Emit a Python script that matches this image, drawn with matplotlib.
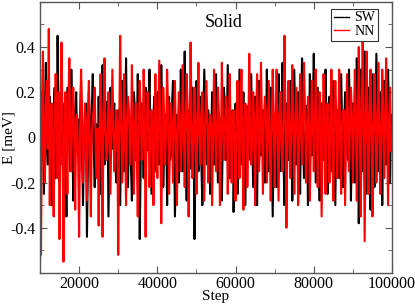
import numpy as np
import matplotlib
matplotlib.use("Agg")
import matplotlib.pyplot as plt
from matplotlib.ticker import MultipleLocator

# Energy fluctuations, one value every 250 steps.
steps = np.arange(10000, 100000, 250)

sw_values = [
    -0.55, -0.10, 0.20, 0.05, -0.25, 0.12, 0.33, -0.05, -0.12, 0.08, 0.18, -0.15, -0.30, 0.02, 0.10, 0.22, -0.18, -0.06, 0.45, 0.10,
    -0.20, 0.06, 0.28, -0.12, -0.08, 0.15, 0.02, -0.35, 0.22, 0.10, -0.02, -0.15, 0.30, 0.05, -0.28, -0.10, 0.12, 0.20, -0.06, 0.08,
    -0.15, 0.10, 0.25, -0.08, -0.30, 0.02, 0.08, 0.15, -0.44, -0.12, 0.20, 0.04, -0.10, 0.12, 0.28, -0.05, -0.22, 0.06, 0.05, -0.14,
    0.18, -0.06, -0.25, 0.10, 0.32, 0.02, -0.12, -0.04, 0.10, 0.16, -0.35, -0.08, 0.22, 0.04, -0.05, 0.12, 0.15, -0.10, -0.20, 0.06,
    0.12, -0.08, -0.30, 0.05, 0.25, 0.10, -0.15, 0.02, 0.35, -0.04, -0.22, 0.08, 0.08, -0.12, -0.28, 0.04, 0.20, 0.12, -0.10, -0.02,
    0.28, 0.05, -0.45, -0.10, 0.15, 0.06, -0.18, 0.10, 0.22, -0.06, -0.05, 0.14, 0.30, -0.02, -0.25, -0.08, 0.10, 0.18, -0.15, 0.02,
    0.20, -0.04, -0.12, 0.08, 0.32, 0.12, -0.22, -0.06, 0.05, 0.10, -0.30, 0.02, 0.18, -0.10, -0.08, 0.14, 0.25, 0.04, -0.35, -0.12,
    0.10, 0.06, -0.20, -0.02, 0.30, 0.12, -0.15, 0.04, 0.38, -0.08, -0.28, 0.02, 0.12, 0.08, -0.10, -0.14, 0.22, 0.06, -0.45, 0.00,
    0.25, 0.08, -0.15, 0.04, 0.18, -0.10, -0.30, 0.06, 0.30, 0.12, -0.05, -0.12, 0.12, 0.02, -0.25, -0.06, 0.20, 0.10, -0.12, 0.04,
    0.28, -0.02, -0.20, 0.10, 0.08, -0.08, -0.28, 0.04, 0.22, 0.14, -0.10, -0.04, 0.32, 0.06, -0.18, 0.02, 0.05, 0.12, -0.33, -0.06,
    0.15, 0.04, -0.25, -0.08, 0.30, 0.10, -0.12, 0.02, 0.20, -0.06, -0.30, 0.06, 0.10, 0.14, -0.05, -0.10, 0.28, 0.02, -0.22, 0.08,
    0.18, -0.04, -0.30, 0.06, 0.25, 0.12, -0.08, -0.02, 0.12, 0.08, -0.20, -0.10, 0.30, 0.04, -0.15, 0.06, 0.22, -0.06, -0.35, 0.02,
    0.10, 0.06, -0.22, -0.04, 0.28, 0.10, -0.15, 0.02, 0.33, -0.08, -0.30, 0.04, 0.15, 0.12, -0.10, -0.02, 0.25, 0.06, -0.28, -0.06,
    0.30, 0.08, -0.12, 0.02, 0.20, -0.06, -0.25, 0.10, 0.35, 0.04, -0.18, -0.08, 0.10, 0.14, -0.30, 0.00, 0.28, 0.06, -0.08, 0.12,
    0.37, 0.10, -0.20, 0.02, 0.22, -0.06, -0.28, 0.08, 0.15, 0.12, -0.10, -0.04, 0.30, 0.06, -0.25, -0.02, 0.18, 0.10, -0.15, 0.04,
    0.25, -0.02, -0.30, 0.06, 0.12, 0.10, -0.18, -0.06, 0.28, 0.04, -0.22, 0.02, 0.20, 0.12, -0.05, -0.10, 0.30, 0.06, -0.28, 0.00,
    0.15, 0.04, -0.20, 0.08, 0.35, 0.14, -0.38, -0.10, 0.30, 0.18, -0.15, 0.06, 0.38, 0.10, -0.25, -0.04, 0.22, 0.12, -0.32, 0.02,
    0.28, 0.06, -0.22, 0.04, 0.37, 0.10, -0.15, -0.02, 0.20, 0.08, -0.30, 0.02, 0.25, 0.12, -0.12, -0.06, 0.30, 0.04, -0.20, 0.10,
]

nn_values = [
    0.30, -0.52, 0.10, 0.38, -0.08, -0.20, 0.15, 0.25, -0.05, 0.48, -0.30, 0.08, 0.15, -0.12, -0.35, 0.05, 0.28, 0.12, -0.18, 0.20,
    -0.45, 0.05, 0.42, 0.10, -0.55, -0.08, 0.20, 0.02, -0.25, 0.14, 0.35, -0.06, -0.15, 0.10, 0.22, -0.02, -0.32, 0.08, 0.10, -0.10,
    -0.44, 0.04, 0.30, 0.12, -0.20, -0.04, 0.15, 0.06, -0.28, 0.10, 0.25, -0.08, -0.35, 0.02, 0.08, 0.14, 0.22, -0.06, -0.18, 0.04,
    -0.39, 0.06, 0.28, -0.02, -0.44, 0.10, 0.35, 0.04, -0.10, -0.06, 0.20, 0.12, -0.25, 0.02, 0.30, 0.08, -0.15, -0.04, 0.12, 0.06,
    -0.52, 0.02, 0.45, 0.10, -0.20, -0.06, 0.28, 0.04, -0.30, 0.08, 0.18, 0.12, -0.12, -0.02, 0.32, 0.06, -0.25, 0.04, 0.15, -0.08,
    -0.35, 0.04, 0.25, 0.10, -0.10, -0.04, 0.30, 0.08, -0.44, 0.02, 0.20, 0.12, -0.22, -0.06, 0.12, 0.06, -0.30, 0.04, 0.28, -0.02,
    -0.18, 0.08, 0.34, 0.02, -0.38, -0.06, 0.22, 0.10, -0.12, 0.04, 0.30, 0.12, -0.25, -0.02, 0.15, 0.06, -0.20, 0.08, 0.25, -0.04,
    -0.30, 0.04, 0.20, 0.10, -0.15, -0.02, 0.32, 0.08, -0.22, 0.06, 0.28, 0.12, -0.35, 0.00, 0.42, 0.10, -0.18, -0.04, 0.22, 0.06,
    -0.25, 0.06, 0.33, 0.02, -0.12, 0.10, 0.20, -0.04, -0.28, 0.08, 0.25, 0.12, -0.20, 0.02, 0.10, 0.06, -0.30, -0.02, 0.30, 0.08,
    -0.15, 0.04, 0.22, 0.10, -0.30, -0.06, 0.33, 0.08, -0.10, 0.02, 0.18, 0.12, -0.25, -0.04, 0.28, 0.06, -0.20, 0.10, 0.12, -0.02,
    -0.28, 0.06, 0.25, 0.02, -0.18, 0.10, 0.30, -0.04, -0.32, 0.08, 0.15, 0.12, -0.22, 0.00, 0.37, 0.06, -0.12, -0.02, 0.20, 0.08,
    -0.30, 0.04, 0.28, 0.10, -0.15, -0.02, 0.33, 0.06, -0.25, 0.08, 0.18, 0.12, -0.20, 0.02, 0.25, -0.04, -0.28, 0.06, 0.30, 0.10,
    -0.22, 0.06, 0.30, 0.02, -0.28, 0.10, 0.20, -0.04, -0.15, 0.08, 0.45, 0.12, -0.40, -0.02, 0.25, 0.06, -0.18, 0.04, 0.32, 0.08,
    -0.25, 0.02, 0.22, 0.10, -0.30, -0.04, 0.28, 0.06, -0.12, 0.08, 0.33, 0.12, -0.20, 0.00, 0.18, 0.06, -0.28, -0.02, 0.25, 0.10,
    -0.15, 0.04, 0.30, 0.08, -0.22, 0.02, 0.20, 0.10, -0.35, -0.04, 0.28, 0.12, -0.25, 0.06, 0.15, 0.02, -0.20, 0.08, 0.30, -0.02,
    -0.28, 0.06, 0.25, 0.10, -0.18, 0.02, 0.30, -0.04, -0.25, 0.08, 0.12, 0.12, -0.30, 0.00, 0.28, 0.06, -0.15, 0.04, 0.22, 0.10,
    -0.20, 0.06, 0.30, 0.12, -0.28, 0.02, 0.40, 0.10, -0.35, 0.08, 0.44, 0.14, -0.46, -0.04, 0.38, 0.10, -0.25, 0.06, 0.30, 0.02,
    -0.35, 0.04, 0.28, 0.10, -0.20, 0.02, 0.33, 0.08, -0.25, -0.04, 0.30, 0.12, -0.18, 0.06, 0.35, 0.02, -0.30, 0.08, 0.22, -0.06,
]

y_ticks = [-0.4, -0.2, 0.0, 0.2, 0.4]
y_tick_labels = ["-0.4", "-0.2", "0", "0.2", "0.4"]
x_ticks = [20000, 40000, 60000, 80000, 100000]


def main():
    plt.rcParams["font.family"] = ["Liberation Serif", "DejaVu Serif"]
    plt.rcParams["axes.unicode_minus"] = False

    fig = plt.figure(figsize=(4.15, 3.06), dpi=100)
    ax = fig.add_axes([0.0964, 0.108, 0.8482, 0.886])

    ax.plot(steps, sw_values, color="black", linewidth=1.5, label="SW")
    ax.plot(steps, nn_values, color="red", linewidth=1.5, label="NN")

    ax.set_xlim(10000, 100000)
    ax.set_ylim(-0.6, 0.6)
    ax.set_xticks(x_ticks)
    ax.set_yticks(y_ticks)
    ax.set_yticklabels(y_tick_labels)
    ax.xaxis.set_minor_locator(MultipleLocator(10000))
    ax.yaxis.set_minor_locator(MultipleLocator(0.1))
    ax.tick_params(which="both", direction="in", top=True, right=True,
                   labelsize=11.5, color="#555555")
    ax.tick_params(which="major", length=5)
    ax.tick_params(which="minor", length=3)
    ax.tick_params(axis="x", pad=2)
    for spine in ax.spines.values():
        spine.set_color("#555555")
        spine.set_linewidth(1.0)

    ax.set_xlabel("Step", fontsize=11, va="baseline")
    ax.xaxis.set_label_coords(0.5, -0.1)
    ax.set_ylabel("E [meV]", fontsize=11)
    ax.yaxis.set_label_coords(-0.07, 0.5)
    ax.text(57000, 0.51, "Solid", fontsize=13, ha="center", va="center")

    leg = ax.legend(loc="upper right", bbox_to_anchor=(0.96, 0.975),
                    fontsize=10, handlelength=1.1, handletextpad=0.35,
                    borderpad=0.2, labelspacing=0.05, fancybox=False,
                    framealpha=1, borderaxespad=0)
    leg.get_frame().set_edgecolor("#333333")
    leg.get_frame().set_linewidth(0.8)
    for line in leg.get_lines():
        line.set_linewidth(1.0)

    fig.savefig("out.png", dpi=100)


if __name__ == "__main__":
    main()
